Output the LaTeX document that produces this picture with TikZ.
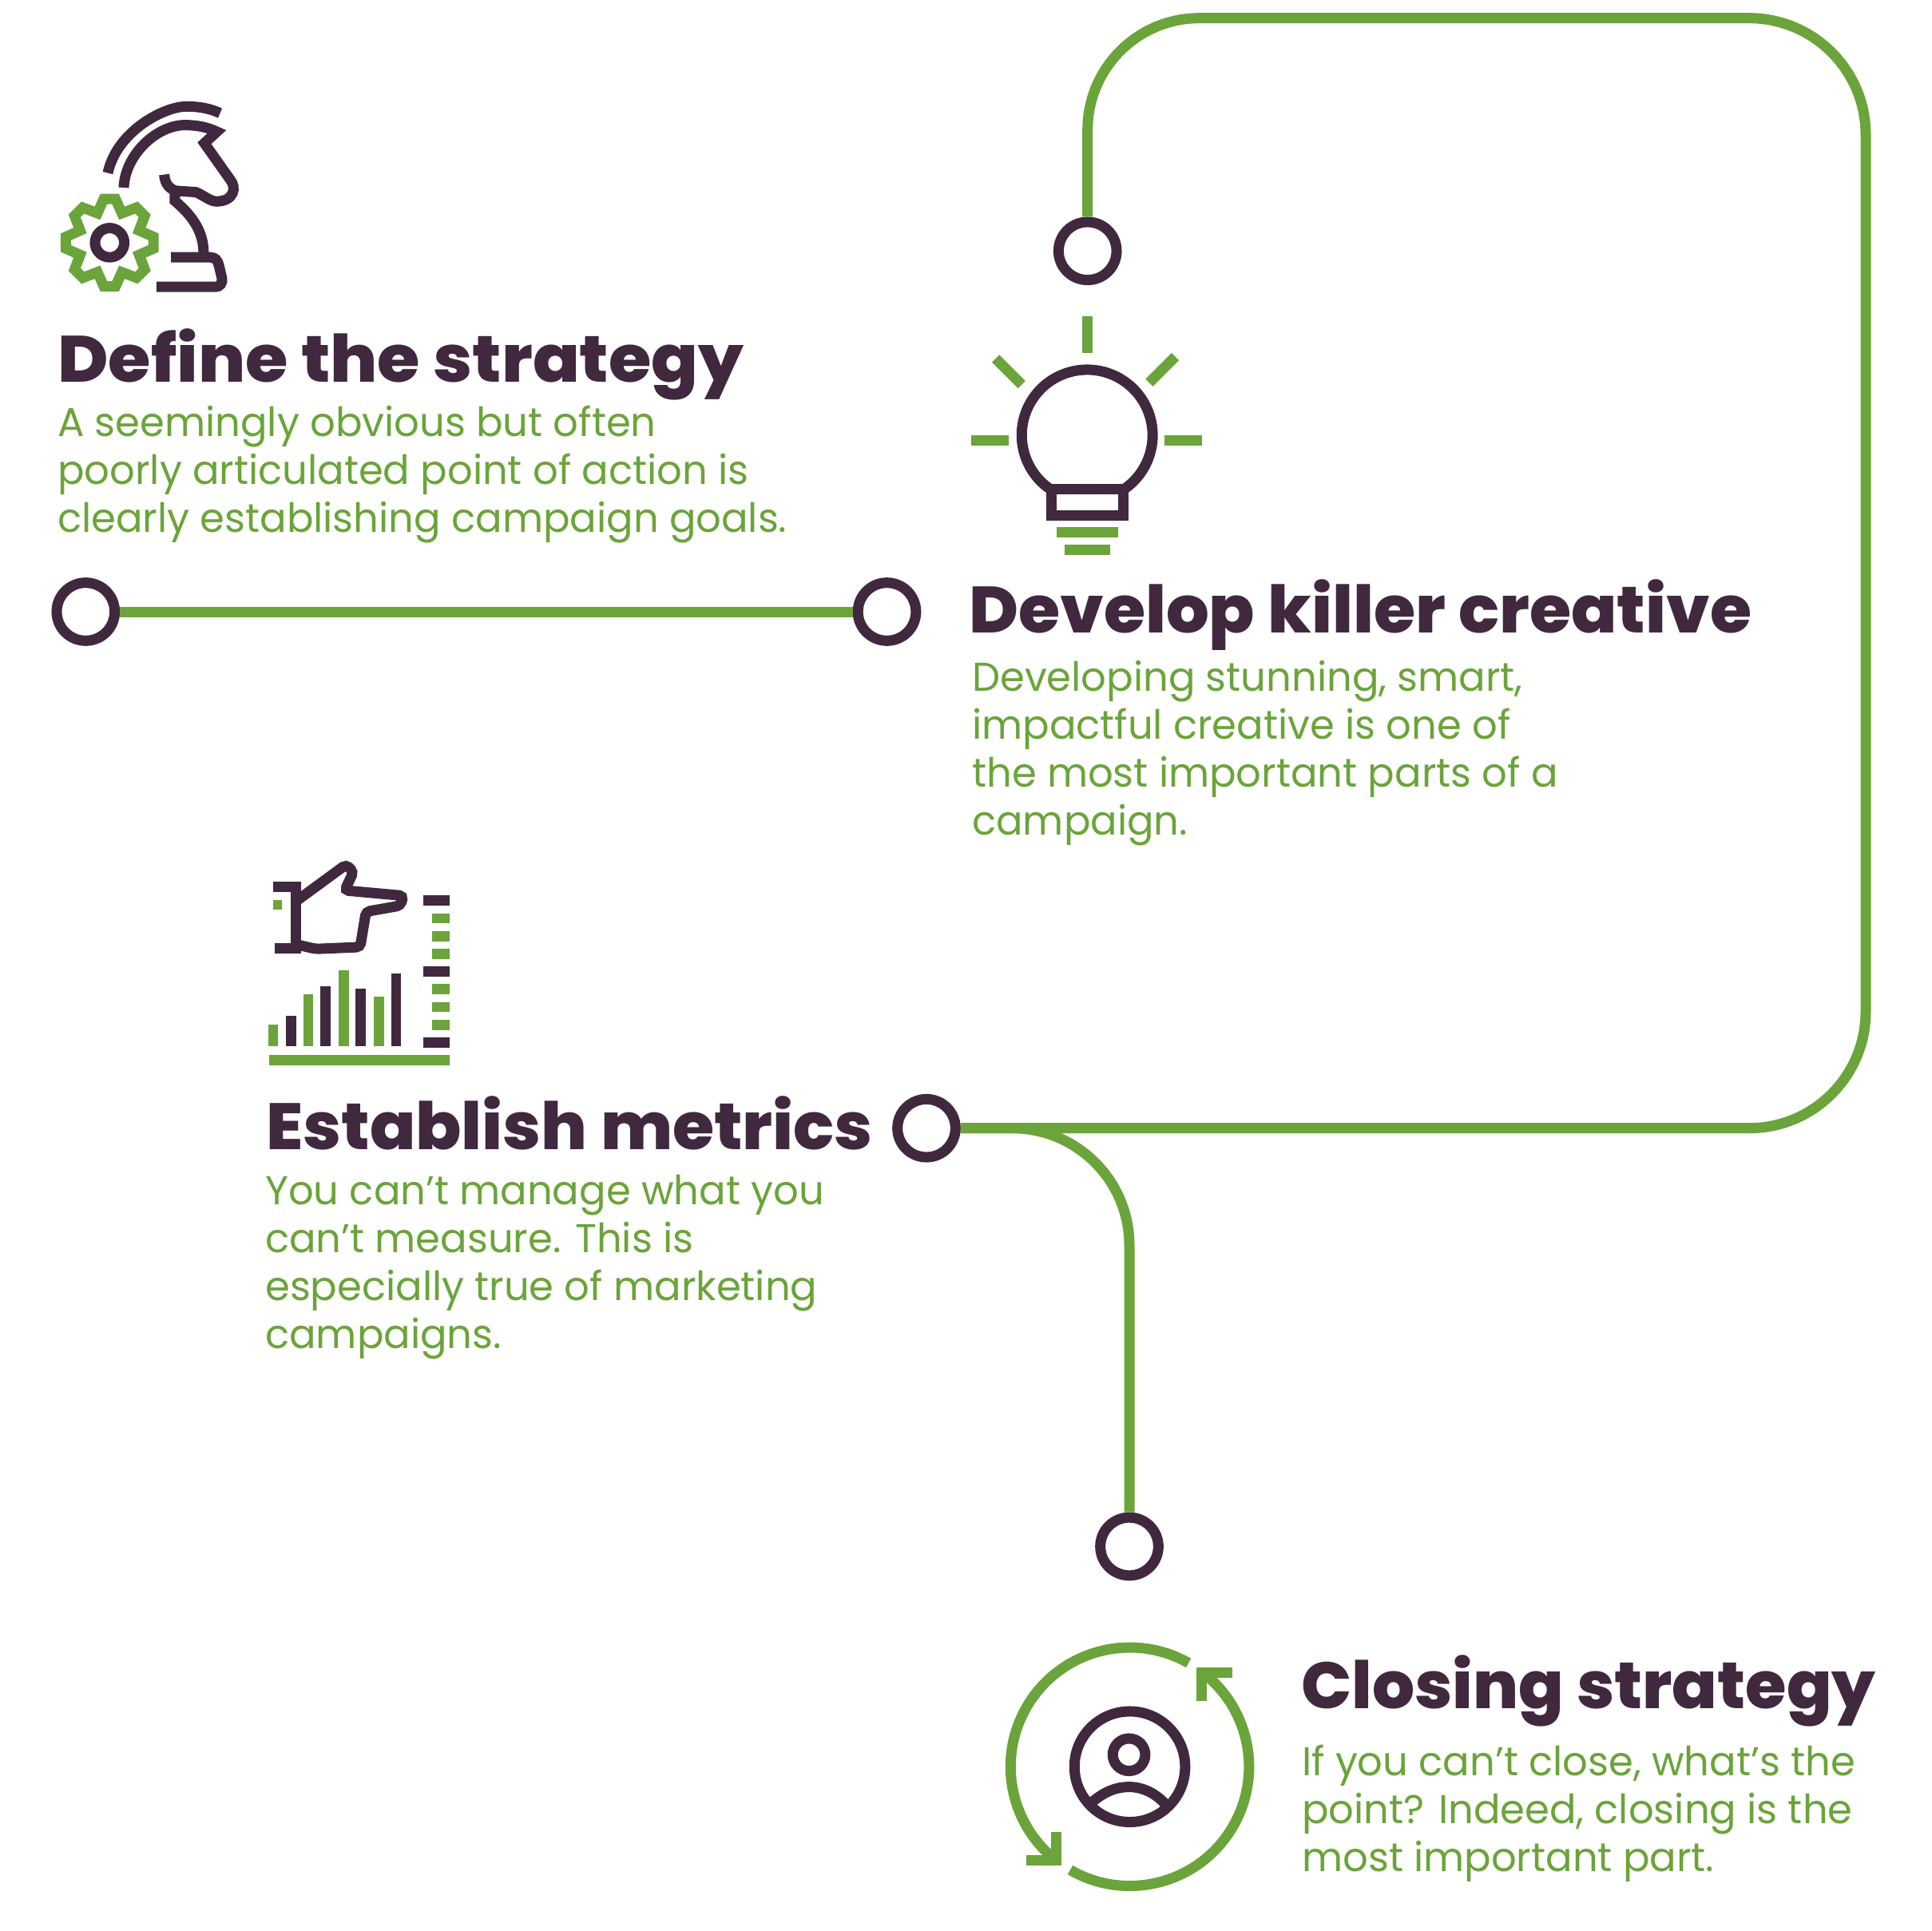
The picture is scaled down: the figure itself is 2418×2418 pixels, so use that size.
\documentclass[tikz,border=0pt]{standalone}
\usepackage{fontspec}
\setmainfont{Poppins}
\newfontfamily\headf[UprightFont=*-ExtraBold,FakeStretch=1.03,Ligatures=CommonOff]{Poppins}
\newfontfamily\headwide[UprightFont=*-ExtraBold,FakeStretch=1.055,Ligatures=CommonOff]{Poppins}
\newfontfamily\headnarrow[UprightFont=*-ExtraBold,FakeStretch=1.017,Ligatures=CommonOff]{Poppins}
\newfontfamily\bodyf[FakeStretch=0.985,Ligatures=CommonOff]{Poppins}
\definecolor{dk}{HTML}{40283E}
\definecolor{gn}{HTML}{6BA43A}
\newcommand{\headsize}{\fontsize{70}{74}\selectfont}
\tikzset{
 px/.style={x=0.03cm,y=-0.03cm},
 icon/.style={x=0.01cm,y=-0.01cm,line width=0.39cm,miter limit=10},
 link/.style={draw=gn,line width=0.39cm},
 dot/.style={circle,draw=dk,line width=0.39cm,fill=white,minimum size=2.18cm,inner sep=0pt},
 head/.style={anchor=base west,inner sep=0pt,text=dk,font=\headf\headsize},
 body/.style={anchor=base west,inner sep=0pt,text=gn,align=left,font=\bodyf\fontsize{43}{51.2}\selectfont},
}
\begin{document}
\begin{tikzpicture}[px]
\useasboundingbox (0,0) rectangle (2418,2418);
% dots
\node[dot] (c1) at (107.3,766) {};
\node[dot] (c2) at (1110.5,766) {};
\node[dot] (c3) at (1361.7,314.3) {};
\node[dot] (c4) at (1160,1412.7) {};
\node[dot] (c5) at (1414,1936.5) {};
\coordinate (tl) at (1361.7,22.7);
\coordinate (tr) at (2336,22.7);
\coordinate (br) at (2336,1412.7);
\coordinate (bm) at (1414,1412.7);
% connectors
\draw[link] (c1.east) -- (c2.west);
\draw[link] (c3.north) [rounded corners=4.2cm] -- (tl) [rounded corners=4.38cm] -- (tr) -- (br) -- (c4.east);
\draw[link,rounded corners=4.4cm] (c4.east) -- (bm) -- (c5.north);
% headings
\node[head,font=\headwide\headsize] (h1) at (72,478.3) {Define the strategy};
\node[head] (h2) at (1213,792) {Develop killer creative};
\node[head] (h3) at (333,1439) {Establish metrics};
\node[head,font=\headnarrow\headsize] (h4) at (1629,2139) {Closing strategy};
% bodies
\node[body] (b1) at (72,666.5) {A seemingly obvious but often\\poorly articulated point of action is\\clearly establishing campaign goals.};
\node[body] (b2) at (1217,1045) {Developing stunning, smart,\\impactful creative is one of\\the most important parts of a\\campaign.};
\node[body] (b3) at (332,1688.5) {You can’t manage what you\\can’t measure. This is\\especially true of marketing\\campaigns.};
\node[body] (b4) at (1630,2343) {If you can’t close, what’s the\\point? Indeed, closing is the\\most important part.};
% knight + gear
\begin{scope}[shift={(50,100)},icon]
\draw[dk] (255,350) .. controls (290,190) and (470,100) .. (550,100) .. controls (600,100) and (640,108) .. (677,125);
\draw[dk,line join=miter] (315,405) .. controls (320,280) and (440,170) .. (545,170) .. controls (590,170) and (630,178) .. (665,195) -- (618,238) -- (715,375) .. controls (740,405) and (730,455) .. (665,457) .. controls (640,458) and (610,430) .. (585,422) -- (510,417) .. controls (490,410) and (470,395) .. (467,356);
\draw[dk] (507,415) -- (507,455) .. controls (560,500) and (615,560) .. (615,650);
\draw[dk] (493,667) -- (640,667) .. controls (660,667) and (668,680) .. (672,695) -- (684,745) .. controls (688,765) and (675,778) .. (660,778) -- (438,778);
\draw[gn,shift={(262,612)}] (82.4:166) foreach \a in {0,45,...,315} { -- ({90+\a+7.6}:166) -- ({90+\a+22.5}:120) -- ({90+\a+37.4}:166) } -- cycle;
\draw[dk] (262,612) circle[radius=55];
\end{scope}
% bulb
\begin{scope}[shift={(1190,380)},icon]
\draw[dk] (381,702) arc[start angle=122.7,end angle=417.3,radius=246];
\draw[dk] (381,698) rectangle (649,798);
\foreach \p/\q in {{514,47}/{514,187},{78,514}/{219,514},{803,514}/{944,514},{170,207}/{268,305},{845,200}/{747,298},{399,861}/{631,861},{428,925}/{601,925}}
  \draw[gn] (\p) -- (\q);
\end{scope}
% metrics
\begin{scope}[shift={(320,1060)},icon]
\draw[dk] (66,151) -- (153,151) -- (153,384) -- (72,384);
\fill[gn] (66,200) rectangle (99,238);
\draw[dk,rounded corners=0.15cm] (153,205) -- (340,68) -- (368,95) -- (335,165) -- (555,185) -- (545,222) -- (415,245) -- (393,378) -- (225,385) -- (153,368);
\foreach \a/\b/\c/\s in {47/85/669/gn,115/153/637/dk,179/217/556/gn,244/282/524/dk,312/350/464/gn,376/414/535/dk,445/483/563/gn,509/547/476/dk}
  \fill[\s] (\a,\c) rectangle (\b,751);
\fill[gn] (50,783) rectangle (729,821);
\foreach \y in {184,450,718} \fill[dk] (631,\y) rectangle (729,\y+38);
\foreach \y in {251,318,385,517,584,651} \fill[gn] (664,\y) rectangle (729,\y+38);
\end{scope}
% closing
\begin{scope}[shift={(1240,2040)},icon]
\draw[gn,shift={(524,517)}] (-60.5:448) arc[start angle=-60.5,end angle=-230,radius=448];
\draw[gn,shift={(524,517)}] (120:448) arc[start angle=120,end angle=-51.4,radius=448];
\draw[gn] (249,762) -- (249,868) -- (134,868);
\draw[gn] (795,270) -- (795,165) -- (910,165);
\draw[dk] (524,517) circle[radius=208];
\draw[dk] (521,472) circle[radius=61];
\draw[dk] (385,648) .. controls (430,610) and (475,593) .. (521,593) .. controls (570,593) and (620,615) .. (660,660);
\end{scope}
\end{tikzpicture}
\end{document}
